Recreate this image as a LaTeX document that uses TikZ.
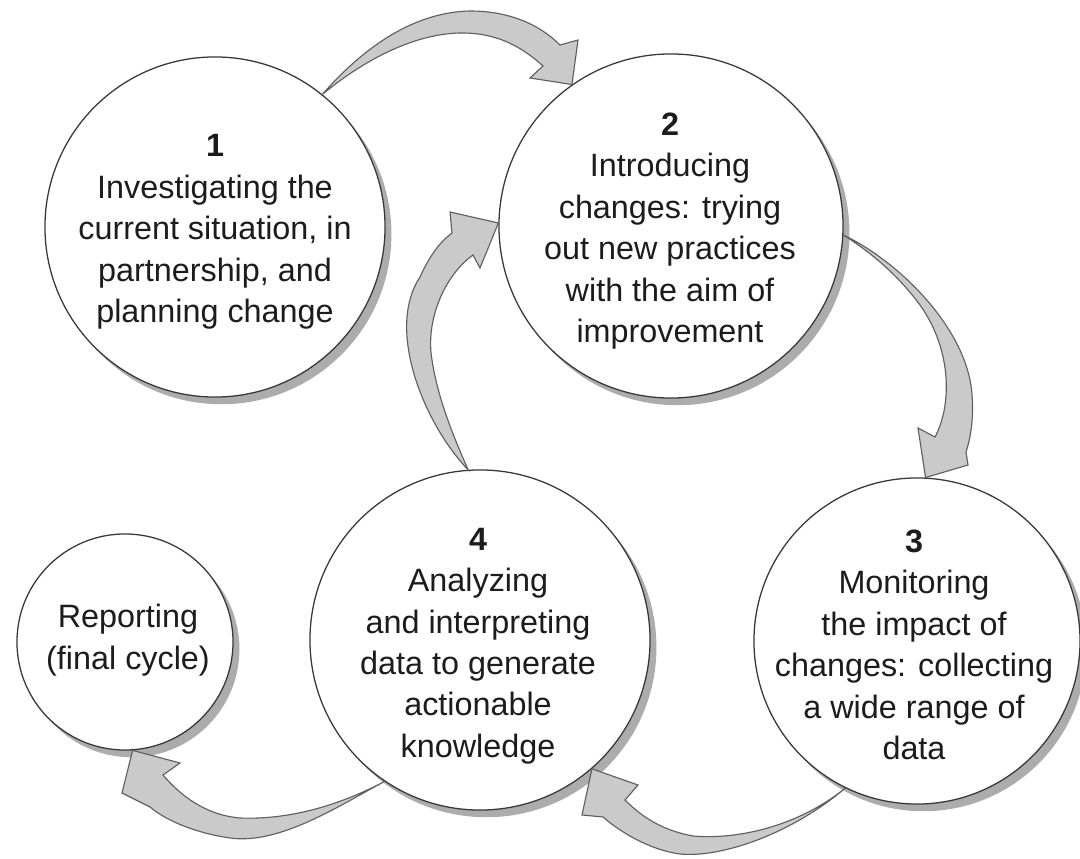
\documentclass[tikz,border=0pt]{standalone}
\usepackage{fontspec}
\setmainfont{Liberation Sans}
\usetikzlibrary{shadows,calc}
\definecolor{arrowfill}{RGB}{202,202,202}
\definecolor{arrowline}{RGB}{95,95,95}
\definecolor{ringline}{RGB}{55,55,55}
\definecolor{shadowc}{RGB}{172,172,172}
\definecolor{textc}{RGB}{28,28,28}
\begin{document}
\begin{tikzpicture}[x=0.025cm,y=-0.025cm,
  stage/.style={circle, draw=ringline, line width=0.9pt, fill=white, inner sep=0pt,
    drop shadow={shadow xshift=0.16cm, shadow yshift=-0.18cm, fill=shadowc, opacity=1}},
  stagetext/.style={align=center, text=textc, font=\fontsize{23}{29.5}\selectfont},
  blockarrow/.style={fill=arrowfill, draw=arrowline, line width=0.8pt, line join=miter}]
\useasboundingbox (0,0) rectangle (1080,859);
\fill[white] (0,0) rectangle (1080,859);

% circles
\node[stage, minimum size=8.5cm] (c1) at (215,227) {};
\node[stage, minimum size=8.6cm] (c2) at (671,226) {};
\node[stage, minimum size=8.15cm] (c3) at (917,641) {};
\node[stage, minimum size=8.5cm] (c4) at (480,640) {};
\node[stage, minimum size=5.4cm] (rep) at (125,642) {};

% texts
\node[stagetext] (t1) at (215,232) {\textbf{1}\\Investigating the\\current situation, in\\partnership, and\\planning change};
\node[stagetext] (t2) at (670,231) {\textbf{2}\\Introducing\\changes: trying\\out new practices\\with the aim of\\improvement};
\node[stagetext] (t3) at (914,645) {\textbf{3}\\Monitoring\\the impact of\\changes: collecting\\a wide range of\\data};
\node[stagetext] (t4) at (478,646) {\textbf{4}\\Analyzing\\and interpreting\\data to generate\\actionable\\knowledge};
\node[stagetext] (tr) at (128,640) {Reporting\\(final cycle)};

% arrow 1 -> 2
\draw[blockarrow] (c1.51) .. controls (370,40) and (420,12) .. (470,11)
  .. controls (510,11) and (540,25) .. (560,45) -- (578,40) -- (c2.125) -- (530,78) -- (543,66)
  .. controls (520,45) and (495,33) .. (462,33) .. controls (420,33) and (370,55) .. (c1.51) -- cycle;

% arrow 2 -> 3
\draw[blockarrow] (c2.-3) .. controls (900,262) and (968,330) .. (972,395)
  .. controls (974,420) and (970,440) .. (966,452) -- (968,465) -- (c3.87) -- (918,428) -- (935,437)
  .. controls (952,405) and (952,350) .. (920,305) .. controls (900,278) and (875,255) .. (c2.-3) -- cycle;

% arrow 3 -> 4
\draw[blockarrow] (c3.244) .. controls (790,835) and (720,858) .. (680,854)
  .. controls (650,850) and (620,832) .. (603,817) -- (582,815) -- (c4.-49) -- (638,785) -- (625,800)
  .. controls (640,815) and (660,830) .. (693,836) .. controls (740,840) and (800,825) .. (c3.244) -- cycle;

% arrow 4 -> 2
\draw[blockarrow] (c4.94) .. controls (425,425) and (385,330) .. (420,277)
  .. controls (430,255) and (440,242) .. (452,233) -- (450,212) -- (c2.179) -- (480,268) -- (473,255)
  .. controls (445,275) and (425,320) .. (432,360) .. controls (438,400) and (455,440) .. (c4.94) -- cycle;

% arrow 4 -> reporting
\draw[blockarrow] (c4.236) .. controls (340,805) and (280,845) .. (230,838)
  .. controls (195,833) and (165,820) .. (150,807) -- (122,793) -- (rep.-86) -- (180,763) -- (163,775)
  .. controls (180,795) and (205,815) .. (240,818) .. controls (290,820) and (340,805) .. (c4.236) -- cycle;
\end{tikzpicture}
\end{document}
